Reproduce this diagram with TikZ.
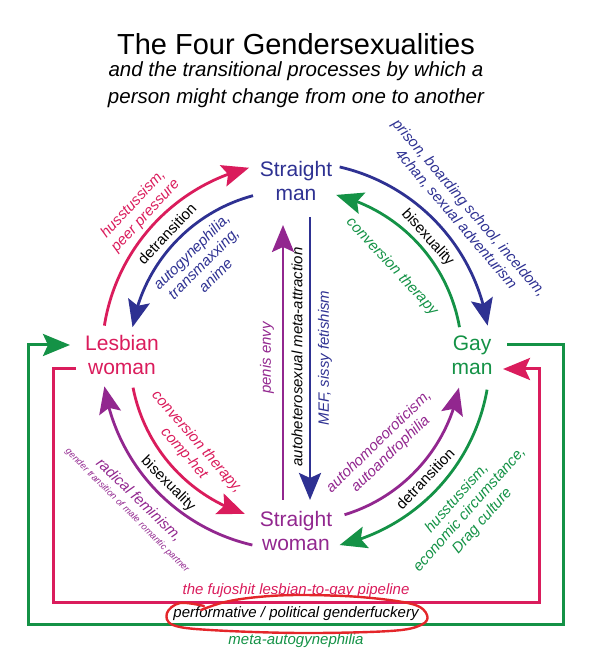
\documentclass[tikz,border=0pt]{standalone}
\usepackage{fontspec}
\setmainfont{Liberation Sans}
\usetikzlibrary{arrows.meta,calc,bending}
\definecolor{cnavy}{HTML}{2E3192}
\definecolor{ccrim}{HTML}{DA1C5C}
\definecolor{cgreen}{HTML}{149246}
\definecolor{cpurp}{HTML}{92278F}
\definecolor{cred}{HTML}{E4262A}
\tikzset{
  arr/.style={line width=2.8pt, -{Stealth[length=27pt,width=22pt,inset=5pt]}},
  nd/.style={align=center, font=\fontsize{21}{24}\selectfont, inner sep=0pt},
  lbl/.style={align=center, font=\fontsize{15}{17}\selectfont\itshape, inner sep=0pt},
  plbl/.style={align=center, font=\fontsize{15}{17}\selectfont, inner sep=0pt},
  frm/.style={line width=3pt, line join=miter, line cap=butt}
}
\begin{document}
\begin{tikzpicture}[x=1pt,y=1pt]
\useasboundingbox (0,0) rectangle (592,668);
\coordinate (ctr) at (296,312);
% title
\node[anchor=base, font=\fontsize{29}{34}\selectfont] (title) at (296,613) {The Four Gendersexualities};
\node[anchor=base, font=\fontsize{20.5}{26}\selectfont\itshape] (sub1) at (296,591) {and the transitional processes by which a};
\node[anchor=base, font=\fontsize{20.5}{26}\selectfont\itshape] (sub2) at (296,564) {person might change from one to another};
% nodes
\node[nd, text=cnavy] (SM) at (296,487) {Straight\\man};
\node[nd, text=ccrim] (LW) at (122,313) {Lesbian\\woman};
\node[nd, text=cgreen] (GM) at (472,313) {Gay\\man};
\node[nd, text=cpurp] (SW) at (296,137) {Straight\\woman};
% arcs top-left
\draw[arr, ccrim] ($(ctr)+(171:194)$) arc[start angle=171, end angle=104, radius=194];
\draw[arr, cnavy] ($(ctr)+(105:166)$) arc[start angle=105, end angle=170, radius=166];
% arcs top-right
\draw[arr, cnavy] ($(ctr)+(77:194)$) arc[start angle=77, end angle=9, radius=194];
\draw[arr, cgreen] ($(ctr)+(10:166)$) arc[start angle=10, end angle=76, radius=166];
% arcs bottom-left
\draw[arr, ccrim] ($(ctr)+(191:166)$) arc[start angle=191, end angle=252, radius=166];
\draw[arr, cpurp] ($(ctr)+(257:194)$) arc[start angle=257, end angle=189, radius=194];
% arcs bottom-right
\draw[arr, cpurp] ($(ctr)+(287:166)$) arc[start angle=287, end angle=349, radius=166];
\draw[arr, cgreen] ($(ctr)+(350:194)$) arc[start angle=350, end angle=283, radius=194];
% vertical arrows
\coordinate (pb) at (283,168); \coordinate (pt) at (283,443);
\coordinate (nt) at (310,451); \coordinate (nb) at (310,168);
\draw[arr, cpurp] (pb) -- (pt);
\draw[arr, cnavy] (nt) -- (nb);
\node[lbl, text=cpurp, rotate=90] (pe) at (267,310) {penis envy};
\node[lbl, rotate=90] (ah) at (297,311) {autoheterosexual meta-attraction};
\node[lbl, text=cnavy, rotate=90] (mef) at (325,310) {MEF, sissy fetishism};
% labels top-left
\node[lbl, text=ccrim, rotate=47] (l1) at ($(ctr)+(137:214)$) {husstussism,\\peer pressure};
\node[plbl, rotate=46.5] (l2) at ($(ctr)+(136.5:178)$) {detransition};
\node[lbl, text=cnavy, rotate=45] (l3) at ($(ctr)+(135:131)$) {autogynephilia,\\transmaxxing,\\anime};
% labels top-right
\node[lbl, text=cnavy, rotate=-49.5] (r1) at ($(ctr)+(40.5:219)$) {prison, boarding school, inceldom,\\4chan, sexual adventurism};
\node[plbl, rotate=-48] (r2) at ($(ctr)+(42:177)$) {bisexuality};
\node[lbl, text=cgreen, rotate=-47] (r3) at ($(ctr)+(43:131)$) {conversion therapy};
% labels bottom-left
\node[lbl, text=ccrim, rotate=-49] (b1) at ($(ctr)+(221:140)$) {conversion therapy,\\comp-het};
\node[plbl, rotate=-45] (b2) at ($(ctr)+(225:181)$) {bisexuality};
\node[lbl, text=cpurp, rotate=-44] (b3) at ($(ctr)+(222.5:213)$) {radical feminism,};
\node[lbl, text=cpurp, rotate=-45, font=\fontsize{9.2}{10}\selectfont\itshape] (b4) at ($(ctr)+(222.5:229)$) {gender transition of male romantic partner};
% labels bottom-right
\node[lbl, text=cpurp, rotate=44] (d1) at ($(ctr)+(314:128)$) {autohomoeoroticism,\\autoandrophilia};
\node[plbl, rotate=46.5] (d2) at ($(ctr)+(316.5:178)$) {detransition};
\node[lbl, text=cgreen, rotate=48.5] (d3) at ($(ctr)+(318.5:232)$) {husstussism,\\economic circumstance,\\Drag culture};
% frames
\coordinate (g0) at (507,323); \coordinate (g1) at (70,323); \coordinate (g2) at (28,323);
\draw[frm, cgreen] (g0) -- (563,323) -- (563,43) -- (28,43) -- (g2);
\draw[arr, frm, cgreen] ([yshift=-1.5pt]g2) |- (g1);
\coordinate (c0) at (76,299); \coordinate (c1) at (503,299); \coordinate (c2) at (539,299);
\draw[frm, ccrim] (c0) -- (53,299) -- (53,65) -- (539,65) -- (c2);
\draw[arr, frm, ccrim] ([yshift=-1.5pt]c2) |- (c1);
\node[lbl, text=ccrim] (fj) at (296,77) {the fujoshit lesbian-to-gay pipeline};
\node[lbl] (pf) at (296,54) {performative / political genderfuckery};
\node[lbl, text=cgreen] (ma) at (296,27) {meta-autogynephilia};
% hand-drawn loop
\draw[cred, line width=2.4pt, line cap=round, line join=round] plot[smooth, tension=0.6] coordinates {(204,62) (180,65) (167,55) (173,43) (210,38) (300,35) (390,37) (421,43) (427,53) (412,64) (360,71) (300,73) (258,71) (225,66) (201,58)};
\end{tikzpicture}
\end{document}
